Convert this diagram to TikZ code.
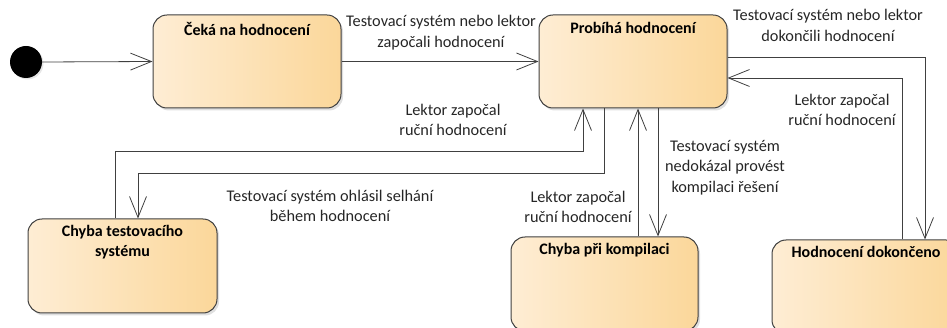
\documentclass[tikz,border=0pt]{standalone}
\usepackage{fontspec}
\setmainfont{Carlito}
\usetikzlibrary{arrows.meta,shadows}
\definecolor{boxL}{HTML}{FEEDD4}
\definecolor{boxR}{HTML}{FBD79A}
\definecolor{edge}{HTML}{404040}
\begin{document}
\begin{tikzpicture}[x=1pt,y=-1pt,
  state/.style={draw=edge, line width=1pt, rounded corners=14pt,
    left color=boxL, right color=boxR,
    drop shadow={opacity=0.25, shadow xshift=2pt, shadow yshift=-2.5pt},
    inner sep=0pt},
  title/.style={anchor=north, font=\fontsize{16}{20}\selectfont\bfseries, align=center, inner sep=0pt},
  lbl/.style={font=\fontsize{16.3}{20.5}\selectfont, align=center, inner sep=0pt, text=black!85},
  flow/.style={draw=edge, line width=0.8pt, -{Straight Barb[length=21pt,width=17pt,line width=0.8pt]}}]
\useasboundingbox (0,0) rectangle (947,328);

% initial pseudo-state
\node[circle, fill=black, minimum size=32pt, inner sep=0pt,
  drop shadow={opacity=0.2, shadow xshift=1.5pt, shadow yshift=-1.5pt}] (init) at (26,62) {};

% states
\node[state, minimum width=188pt, minimum height=93pt] (wait) at (247,61.5) {};
\node[state, minimum width=188pt, minimum height=93pt] (run) at (633,61.5) {};
\node[state, minimum width=189pt, minimum height=94pt] (tserr) at (122.5,266) {};
\node[state, minimum width=187pt, minimum height=94pt] (comperr) at (604.5,284) {};
\node[state, minimum width=188pt, minimum height=94pt] (done) at (866,287) {};

\node[title] (twait) at ([yshift=-8pt]wait.north) {Čeká na hodnocení};
\node[title] (trun) at ([yshift=-8pt]run.north) {Probíhá hodnocení};
\node[title] (ttserr) at ([yshift=-7pt]tserr.north) {Chyba testovacího\\systému};
\node[title] (tcomperr) at ([yshift=-7pt]comperr.north) {Chyba při kompilaci};
\node[title] (tdone) at ([yshift=-7pt]done.north) {Hodnocení dokončeno};

% transitions
\draw[flow] (init.east) -- (wait.west);
\draw[flow] (wait.east) -- (run.west);
\draw[flow] ([yshift=4.5pt]run.east) -| ([xshift=59pt]done.north);
\draw[flow] ([xshift=36pt]done.north) |- ([yshift=-16.5pt]run.east);
\draw[flow] ([xshift=-7.5pt]tserr.north) |- ([xshift=-50pt,yshift=-43pt]run.south) -- ([xshift=-50pt]run.south);
\draw[flow] ([xshift=-29pt]run.south) |- ([xshift=15.5pt,yshift=45pt]tserr.north) -- ([xshift=15.5pt]tserr.north);
\draw[flow] ([xshift=33.5pt]comperr.north) -- ([xshift=5pt]run.south);
\draw[flow] ([xshift=25pt]run.south) -- ([xshift=53.5pt]comperr.north);

% transition labels
\node[lbl] (l1) at (441,32.5) {Testovací systém nebo lektor\\započali hodnocení};
\node[lbl] (l2) at (828,25.5) {Testovací systém nebo lektor\\dokončili hodnocení};
\node[lbl] (l3) at (842,110) {Lektor započal\\ruční hodnocení};
\node[lbl] (l4) at (453,120) {Lektor započal\\ruční hodnocení};
\node[lbl] (l5) at (330,206) {Testovací systém ohlásil selhání\\během hodnocení};
\node[lbl] (l6) at (578,207) {Lektor započal\\ruční hodnocení};
\node[lbl] (l7) at (725,167.5) {Testovací systém\\nedokázal provést\\kompilaci řešení};
\end{tikzpicture}
\end{document}
